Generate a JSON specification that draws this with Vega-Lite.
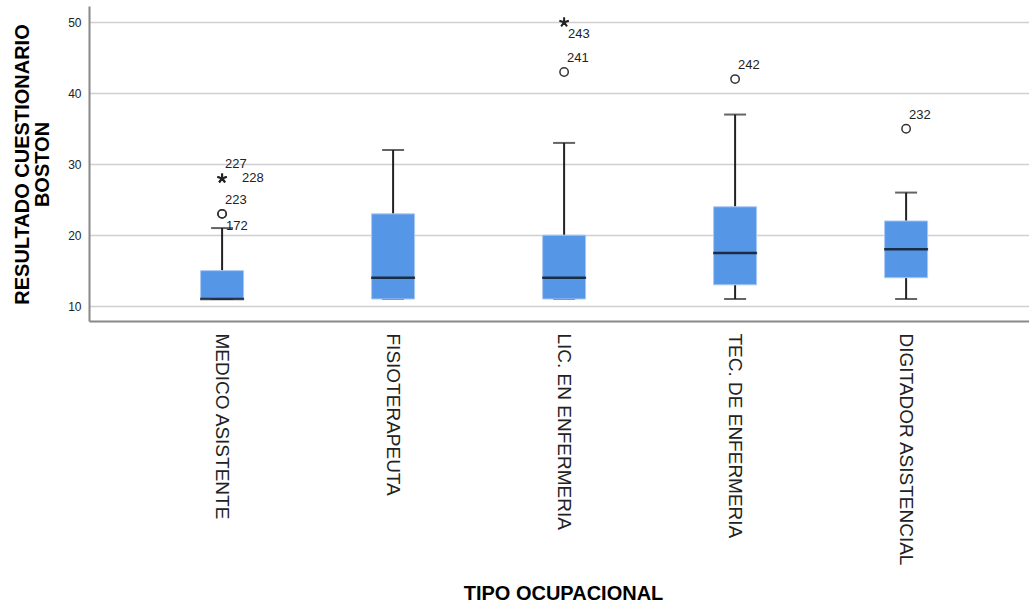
{
  "$schema": "https://vega.github.io/schema/vega-lite/v6.json",
  "autosize": {"type": "none"},
  "width": 940,
  "height": 315,
  "padding": {"left": 89, "top": 6, "right": 0, "bottom": 283},
  "background": "white",
  "config": {
    "view": {"stroke": null},
    "font": "Liberation Sans",
    "axisY": {
      "grid": true,
      "gridColor": "#d0d0d0",
      "gridWidth": 1.5,
      "domainColor": "#888888",
      "domainWidth": 2,
      "ticks": false,
      "labelPadding": 8,
      "labelFontSize": 12,
      "labelColor": "#222222",
      "titleFontSize": 20,
      "titleFontWeight": "bold",
      "titleColor": "#000000",
      "titleAngle": -90,
      "titleAlign": "center",
      "titleBaseline": "top",
      "titleX": -77,
      "titleY": 158,
      "titleLineHeight": 20
    }
  },
  "datasets": {
    "stats": [
      {"group": "MEDICO ASISTENTE", "lower": 11, "q1": 11, "median": 11, "q3": 15, "upper": 21},
      {"group": "FISIOTERAPEUTA", "lower": 11, "q1": 11, "median": 14, "q3": 23, "upper": 32},
      {"group": "LIC. EN ENFERMERIA", "lower": 11, "q1": 11, "median": 14, "q3": 20, "upper": 33},
      {"group": "TEC. DE ENFERMERIA", "lower": 11, "q1": 13, "median": 17.5, "q3": 24, "upper": 37},
      {"group": "DIGITADOR ASISTENCIAL", "lower": 11, "q1": 14, "median": 18, "q3": 22, "upper": 26}
    ],
    "outliers": [
      {"group": "MEDICO ASISTENTE", "value": 23, "kind": "outlier", "case": "223"},
      {"group": "MEDICO ASISTENTE", "value": 23, "kind": "outlier", "case": "172"},
      {"group": "MEDICO ASISTENTE", "value": 28, "kind": "extreme", "case": "227"},
      {"group": "MEDICO ASISTENTE", "value": 28, "kind": "extreme", "case": "228"},
      {"group": "LIC. EN ENFERMERIA", "value": 43, "kind": "outlier", "case": "241"},
      {"group": "LIC. EN ENFERMERIA", "value": 50, "kind": "extreme", "case": "243"},
      {"group": "TEC. DE ENFERMERIA", "value": 42, "kind": "outlier", "case": "242"},
      {"group": "DIGITADOR ASISTENCIAL", "value": 35, "kind": "outlier", "case": "232"}
    ]
  },
  "encoding": {
    "x": {
      "field": "group",
      "type": "nominal",
      "sort": ["MEDICO ASISTENTE", "FISIOTERAPEUTA", "LIC. EN ENFERMERIA", "TEC. DE ENFERMERIA", "DIGITADOR ASISTENCIAL"],
      "scale": {"paddingInner": 0, "paddingOuter": 0.2485, "align": 0.56},
      "axis": {
        "title": "TIPO OCUPACIONAL",
        "labelAngle": 90,
        "labelAlign": "left",
        "labelBaseline": "middle",
        "labelPadding": 12,
        "labelFontSize": 19,
        "labelColor": "#222222",
        "labelLimit": 0,
        "ticks": false,
        "grid": false,
        "domainColor": "#888888",
        "domainWidth": 2,
        "titleFontSize": 20,
        "titleFontWeight": "bold",
        "titleColor": "#000000",
        "titleX": 474,
        "titleY": 272,
        "titleBaseline": "middle"
      }
    }
  },
  "layer": [
    {
      "data": {"name": "stats"},
      "mark": {"type": "rule", "color": "#222222", "strokeWidth": 2},
      "encoding": {
        "y": {
          "field": "q3", "type": "quantitative",
          "scale": {"domain": [7.9, 52.3], "nice": false, "zero": false},
          "title": ["RESULTADO CUESTIONARIO", "BOSTON"],
          "axis": {"values": [10, 20, 30, 40, 50]}
        },
        "y2": {"field": "upper"}
      }
    },
    {
      "data": {"name": "stats"},
      "mark": {"type": "rule", "color": "#222222", "strokeWidth": 2},
      "encoding": {
        "y": {"field": "lower", "type": "quantitative", "scale": {"domain": [7.9, 52.3], "nice": false, "zero": false}, "title": ["RESULTADO CUESTIONARIO", "BOSTON"], "axis": {"values": [10, 20, 30, 40, 50]}},
        "y2": {"field": "q1"}
      }
    },
    {
      "data": {"name": "stats"},
      "mark": {"type": "tick", "color": "#222222", "size": 22, "thickness": 2},
      "encoding": {
        "y": {"field": "upper", "type": "quantitative", "scale": {"domain": [7.9, 52.3], "nice": false, "zero": false}, "title": ["RESULTADO CUESTIONARIO", "BOSTON"], "axis": {"values": [10, 20, 30, 40, 50]}}
      }
    },
    {
      "data": {"name": "stats"},
      "mark": {"type": "tick", "color": "#222222", "size": 22, "thickness": 2},
      "encoding": {
        "y": {"field": "lower", "type": "quantitative", "scale": {"domain": [7.9, 52.3], "nice": false, "zero": false}, "title": ["RESULTADO CUESTIONARIO", "BOSTON"], "axis": {"values": [10, 20, 30, 40, 50]}}
      }
    },
    {
      "data": {"name": "stats"},
      "mark": {"type": "bar", "width": 43, "color": "#5596e6", "stroke": "#a9c9f2", "strokeWidth": 1},
      "encoding": {
        "y": {"field": "q1", "type": "quantitative", "scale": {"domain": [7.9, 52.3], "nice": false, "zero": false}, "title": ["RESULTADO CUESTIONARIO", "BOSTON"], "axis": {"values": [10, 20, 30, 40, 50]}},
        "y2": {"field": "q3"}
      }
    },
    {
      "data": {"name": "stats"},
      "mark": {"type": "tick", "color": "#000000", "size": 44, "thickness": 2.5},
      "encoding": {
        "y": {"field": "median", "type": "quantitative", "scale": {"domain": [7.9, 52.3], "nice": false, "zero": false}, "title": ["RESULTADO CUESTIONARIO", "BOSTON"], "axis": {"values": [10, 20, 30, 40, 50]}}
      }
    },
    {
      "data": {"name": "outliers"},
      "transform": [{"filter": "datum.kind === 'outlier'"}],
      "mark": {"type": "point", "shape": "circle", "filled": false, "size": 70, "stroke": "#333333", "strokeWidth": 1.5, "opacity": 1},
      "encoding": {
        "y": {"field": "value", "type": "quantitative", "scale": {"domain": [7.9, 52.3], "nice": false, "zero": false}, "title": ["RESULTADO CUESTIONARIO", "BOSTON"], "axis": {"values": [10, 20, 30, 40, 50]}}
      }
    },
    {
      "data": {"name": "outliers"},
      "transform": [{"filter": "datum.kind === 'extreme'"}],
      "mark": {"type": "point", "shape": "M0,-1L0,0M0.951,-0.309L0,0M0.588,0.809L0,0M-0.588,0.809L0,0M-0.951,-0.309L0,0", "filled": false, "size": 100, "stroke": "#222222", "strokeWidth": 2, "opacity": 1},
      "encoding": {
        "y": {"field": "value", "type": "quantitative", "scale": {"domain": [7.9, 52.3], "nice": false, "zero": false}, "title": ["RESULTADO CUESTIONARIO", "BOSTON"], "axis": {"values": [10, 20, 30, 40, 50]}}
      }
    },
    {
      "data": {"name": "outliers"},
      "transform": [{"filter": {"field": "case", "oneOf": ["227", "223", "241", "242", "232"]}}],
      "mark": {"type": "text", "align": "left", "baseline": "middle", "dx": 3, "dy": -14, "fontSize": 13, "color": "#222222"},
      "encoding": {
        "y": {"field": "value", "type": "quantitative", "scale": {"domain": [7.9, 52.3], "nice": false, "zero": false}, "title": ["RESULTADO CUESTIONARIO", "BOSTON"], "axis": {"values": [10, 20, 30, 40, 50]}},
        "text": {"field": "case"}
      }
    },
    {
      "data": {"name": "outliers"},
      "transform": [{"filter": {"field": "case", "oneOf": ["228"]}}],
      "mark": {"type": "text", "align": "left", "baseline": "middle", "dx": 20, "dy": 0, "fontSize": 13, "color": "#222222"},
      "encoding": {
        "y": {"field": "value", "type": "quantitative", "scale": {"domain": [7.9, 52.3], "nice": false, "zero": false}, "title": ["RESULTADO CUESTIONARIO", "BOSTON"], "axis": {"values": [10, 20, 30, 40, 50]}},
        "text": {"field": "case"}
      }
    },
    {
      "data": {"name": "outliers"},
      "transform": [{"filter": {"field": "case", "oneOf": ["172", "243"]}}],
      "mark": {"type": "text", "align": "left", "baseline": "middle", "dx": 4, "dy": 12, "fontSize": 13, "color": "#222222"},
      "encoding": {
        "y": {"field": "value", "type": "quantitative", "scale": {"domain": [7.9, 52.3], "nice": false, "zero": false}, "title": ["RESULTADO CUESTIONARIO", "BOSTON"], "axis": {"values": [10, 20, 30, 40, 50]}},
        "text": {"field": "case"}
      }
    }
  ]
}
